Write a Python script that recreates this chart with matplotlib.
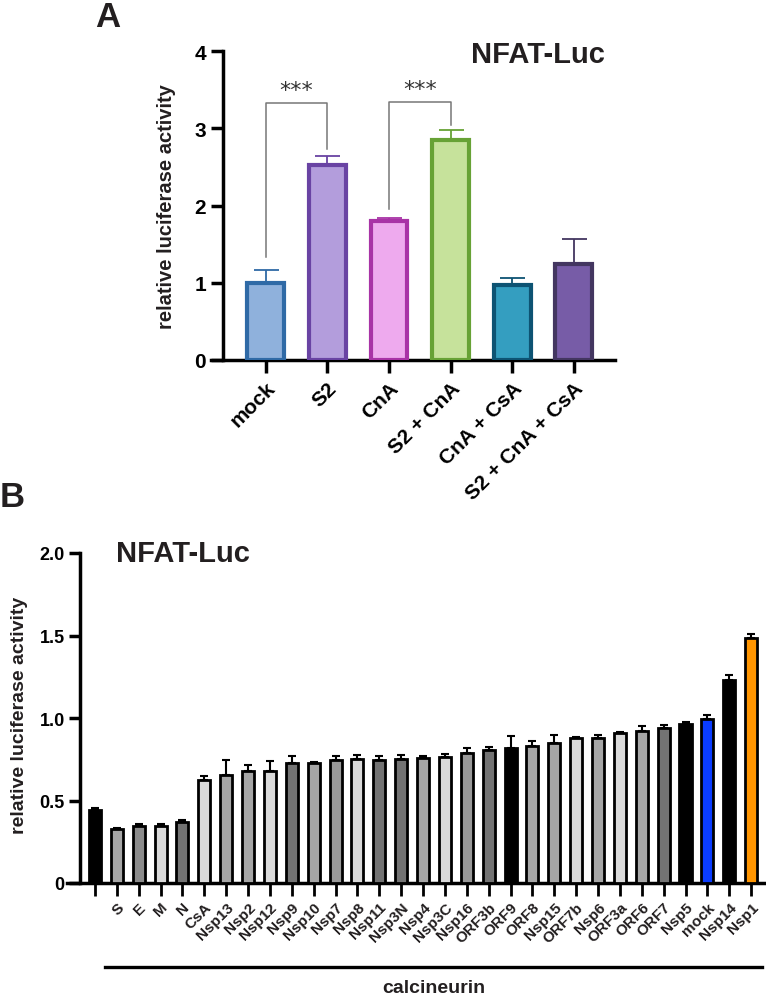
import matplotlib
matplotlib.use("Agg")
import matplotlib.pyplot as plt
import matplotlib.transforms as mtransforms
import numpy as np

plt.rcParams['font.family'] = ['Liberation Sans', 'DejaVu Sans']
plt.rcParams['font.weight'] = 'bold'
plt.rcParams['axes.labelweight'] = 'bold'

# panel A data
a_labels = ['mock', 'S2', 'CnA', 'S2 + CnA', 'CnA + CsA', 'S2 + CnA + CsA']
a_values = [1.0, 2.53, 1.80, 2.85, 0.97, 1.24]
a_errors = [0.17, 0.11, 0.04, 0.13, 0.09, 0.33]
a_faces = ['#8fb1dc', '#b39ddc', '#eeaaee', '#c6e29b', '#349ec0', '#775ca7']
a_edges = ['#2f6aa6', '#6943a3', '#a833a6', '#67a235', '#0d5373', '#433660']
# significance brackets: (left bar, right bar, left foot, right foot, top)
a_brackets = [(0, 1, 1.33, 2.73, 3.33), (2, 3, 1.95, 3.04, 3.34)]

# panel B data
b_labels = ['', 'S', 'E', 'M', 'N', 'CsA', 'Nsp13', 'Nsp2', 'Nsp12', 'Nsp9',
            'Nsp10', 'Nsp7', 'Nsp8', 'Nsp11', 'Nsp3N', 'Nsp4', 'Nsp3C', 'Nsp16',
            'ORF3b', 'ORF9', 'ORF8', 'Nsp15', 'ORF7b', 'Nsp6', 'ORF3a', 'ORF6',
            'ORF7', 'Nsp5', 'mock', 'Nsp14', 'Nsp1']
b_values = [0.44, 0.33, 0.347, 0.347, 0.37, 0.624, 0.656, 0.68, 0.68, 0.727,
            0.727, 0.745, 0.753, 0.747, 0.752, 0.755, 0.765, 0.785, 0.806, 0.82,
            0.828, 0.846, 0.88, 0.88, 0.909, 0.921, 0.939, 0.966, 0.996, 1.23,
            1.486]
b_errors = [0.015, 0.005, 0.01, 0.013, 0.01, 0.024, 0.09, 0.037, 0.06, 0.04,
            0.008, 0.025, 0.021, 0.025, 0.023, 0.015, 0.018, 0.035, 0.02, 0.073,
            0.03, 0.054, 0.006, 0.014, 0.009, 0.032, 0.021, 0.012, 0.024, 0.03,
            0.021]
b_colors = ['#000000', '#a6a6a6', '#8c8c8c', '#dadada', '#737373', '#dadada',
            '#a6a6a6', '#a6a6a6', '#dadada', '#737373', '#a6a6a6', '#999999',
            '#dadada', '#737373', '#737373', '#a6a6a6', '#dadada', '#999999',
            '#737373', '#000000', '#a6a6a6', '#a6a6a6', '#dadada', '#a6a6a6',
            '#dadada', '#a6a6a6', '#737373', '#000000', '#0a3cff', '#000000',
            '#ff9500']

W, H = 766, 995
fig = plt.figure(figsize=(W / 100, H / 100), dpi=100)
txt = '#231f20'

# ---------------- panel A ----------------
axA = fig.add_axes([211 / W, 1 - 361 / H, 404 / W, 309 / H])
xa = np.arange(len(a_labels))
axA.bar(xa, a_values, width=0.6, color=a_faces, edgecolor=a_edges, linewidth=3, zorder=3)
for i in range(len(xa)):
    axA.errorbar(xa[i], a_values[i], yerr=[[0], [a_errors[i]]], color=a_edges[i],
                 capsize=9, elinewidth=1.3, capthick=1.3, zorder=2)
for l, r, fl, fr, top in a_brackets:
    axA.plot([l, l, r, r], [fl, top, top, fr], color='#777777', lw=1.1, zorder=1)
    axA.text((l + r) / 2, top + 0.04, '***', ha='center', va='bottom',
             fontsize=16, family='DejaVu Sans', fontweight='normal', color='#333333')
axA.set_xlim(-0.89, 5.67)
axA.set_ylim(0, 4)
axA.set_yticks([0, 1, 2, 3, 4])
axA.set_xticks(xa)
axA.set_xticklabels(a_labels, rotation=45, ha='right', rotation_mode='anchor')
axA.tick_params(axis='x', labelsize=15, length=9, width=2.5, pad=4)
axA.tick_params(axis='y', labelsize=15, length=9, width=2.5, pad=3)
for s in ['top', 'right']:
    axA.spines[s].set_visible(False)
axA.spines['left'].set_position(('data', -0.70))
axA.spines['left'].set_linewidth(2.5)
axA.spines['bottom'].set_linewidth(2.5)
axA.set_ylabel('relative luciferase activity', fontsize=14.5, color=txt)
axA.yaxis.set_label_coords(-0.086, 0.5)
fig.text(605 / W, 1 - 55 / H, 'NFAT-Luc', ha='right', va='center', fontsize=21, color=txt)
fig.text(95 / W, 1 - 27 / H, 'A', ha='left', va='baseline', fontsize=25, color=txt)

# ---------------- panel B ----------------
axB = fig.add_axes([67 / W, 1 - 884 / H, 699 / W, 330 / H])
xb = np.arange(len(b_labels))
axB.bar(xb, b_values, width=0.55, color=b_colors, edgecolor='black', linewidth=2, zorder=3)
axB.errorbar(xb, b_values, yerr=[np.zeros(len(xb)), b_errors], fmt='none',
             ecolor='black', capsize=3, elinewidth=1.5, capthick=1.5, zorder=2)
axB.set_xlim(-1.28, 30.68)
axB.set_ylim(0, 2)
axB.set_yticks([0, 0.5, 1.0, 1.5, 2.0])
axB.set_yticklabels(['0', '0.5', '1.0', '1.5', '2.0'])
axB.set_xticks(xb)
axB.set_xticklabels(b_labels, rotation=45, ha='right', rotation_mode='anchor', color=txt)
axB.tick_params(axis='x', labelsize=11, length=9, width=2, pad=3)
axB.tick_params(axis='y', labelsize=13, length=8, width=2.5, pad=3)
for s in ['top', 'right']:
    axB.spines[s].set_visible(False)
axB.spines['left'].set_position(('data', -0.686))
axB.spines['left'].set_linewidth(2.5)
axB.spines['bottom'].set_linewidth(2.5)
axB.set_ylabel('relative luciferase activity', fontsize=14, color=txt)
axB.yaxis.set_label_coords(-0.056, 0.51)

trans = mtransforms.blended_transform_factory(axB.transData, axB.transAxes)
axB.plot([0.46, 30.5], [-0.2545, -0.2545], color='black', lw=2.4,
         transform=trans, clip_on=False)
axB.text(15.5, -0.29, 'calcineurin', transform=trans, ha='center', va='top',
         fontsize=14, color=txt)
fig.text(116 / W, 1 - 554 / H, 'NFAT-Luc', ha='left', va='center', fontsize=21, color=txt)
fig.text(0, 1 - 507 / H, 'B', ha='left', va='baseline', fontsize=25, color=txt)

fig.savefig('out.png', dpi=100)
